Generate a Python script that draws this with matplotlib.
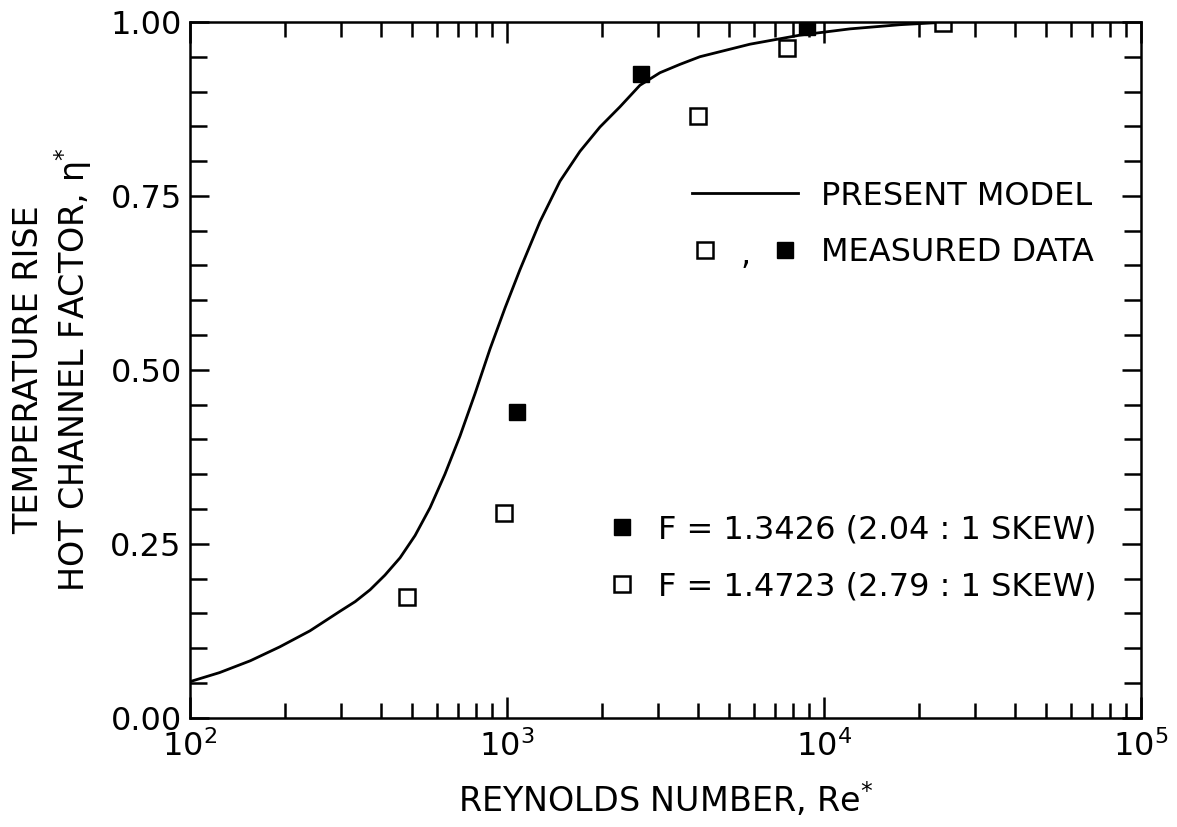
import numpy as np
import matplotlib
matplotlib.use('agg')
import matplotlib.pyplot as plt
from matplotlib.ticker import MultipleLocator, LogLocator, NullFormatter, FormatStrFormatter
from matplotlib.legend_handler import HandlerTuple

# present model curve
re_model = [100, 124, 155, 192, 239, 297, 332, 370, 412, 460, 513, 572, 637, 711,
            793, 884, 986, 1099, 1271, 1469, 1699, 1965, 2272, 2627, 3038, 3513,
            4062, 5843, 8401, 12080, 17370, 24970]
eta_model = [0.052, 0.065, 0.082, 0.102, 0.125, 0.153, 0.167, 0.184, 0.205, 0.230,
             0.262, 0.302, 0.350, 0.405, 0.466, 0.530, 0.589, 0.644, 0.713, 0.771,
             0.814, 0.849, 0.878, 0.909, 0.927, 0.939, 0.950, 0.968, 0.981, 0.990,
             0.996, 1.0]

# measured data
re_filled = [1075, 2650, 8840]
eta_filled = [0.440, 0.925, 0.992]
re_open = [485, 979, 4000, 7640, 23700]
eta_open = [0.174, 0.295, 0.865, 0.962, 0.999]

label_filled = "F = 1.3426 (2.04 : 1 SKEW)"
label_open = "F = 1.4723 (2.79 : 1 SKEW)"

plt.rcParams['font.family'] = 'DejaVu Sans'
plt.rcParams['mathtext.default'] = 'regular'

fig = plt.figure(figsize=(11.77, 8.27), dpi=100)
ax = fig.add_axes([0.1614, 0.132, 0.8080, 0.8415])

line, = ax.plot(re_model, eta_model, color='k', lw=2.0)
filled, = ax.plot(re_filled, eta_filled, 's', color='k', ms=11.5, mec='k', lw=0)
opn, = ax.plot(re_open, eta_open, 's', mfc='white', mec='k', ms=11.5, mew=1.8, lw=0)

ax.set_xscale('log')
ax.set_xlim(1e2, 1e5)
ax.set_ylim(0, 1.0)

ax.yaxis.set_major_locator(MultipleLocator(0.25))
ax.yaxis.set_minor_locator(MultipleLocator(0.05))
ax.yaxis.set_major_formatter(FormatStrFormatter('%.2f'))
ax.xaxis.set_major_locator(LogLocator(base=10, numticks=10))
ax.xaxis.set_minor_locator(LogLocator(base=10, subs=np.arange(2, 10), numticks=20))
ax.xaxis.set_minor_formatter(NullFormatter())

ax.tick_params(which='both', direction='in', top=True, right=True, width=1.8,
               labelsize=23, color='k')
ax.tick_params(axis='x', which='major', length=15, pad=9)
ax.tick_params(axis='x', which='minor', length=11)
ax.tick_params(axis='y', which='major', length=14, pad=6)
ax.tick_params(axis='y', which='minor', length=12)
for s in ax.spines.values():
    s.set_linewidth(1.8)

ax.set_xlabel("REYNOLDS NUMBER, Re$^{*}$", fontsize=24, labelpad=12)
ax.set_ylabel("TEMPERATURE RISE\nHOT CHANNEL FACTOR, $\\eta^{*}$", fontsize=24,
              labelpad=12, linespacing=1.2)

# legend: model and measured data
leg1 = ax.legend([line, (opn, filled)], ["PRESENT MODEL", "MEASURED DATA"],
                 handler_map={tuple: HandlerTuple(ndivide=None, pad=1.7)},
                 loc='upper left', bbox_to_anchor=(0.528, 0.772), frameon=False,
                 fontsize=23, handlelength=3.3, handletextpad=0.72,
                 labelspacing=0.8, borderpad=0, borderaxespad=0)
ax.add_artist(leg1)
ax.text(0.584, 0.664, ",", transform=ax.transAxes, fontsize=23, ha='center', va='center')

# legend: skew cases
ax.legend([filled, opn], [label_filled, label_open], loc='upper left',
          bbox_to_anchor=(0.443, 0.292), frameon=False, fontsize=23,
          handlelength=0.7, handletextpad=0.75, labelspacing=0.8,
          borderpad=0, borderaxespad=0)

fig.savefig('out.png', dpi=100)
